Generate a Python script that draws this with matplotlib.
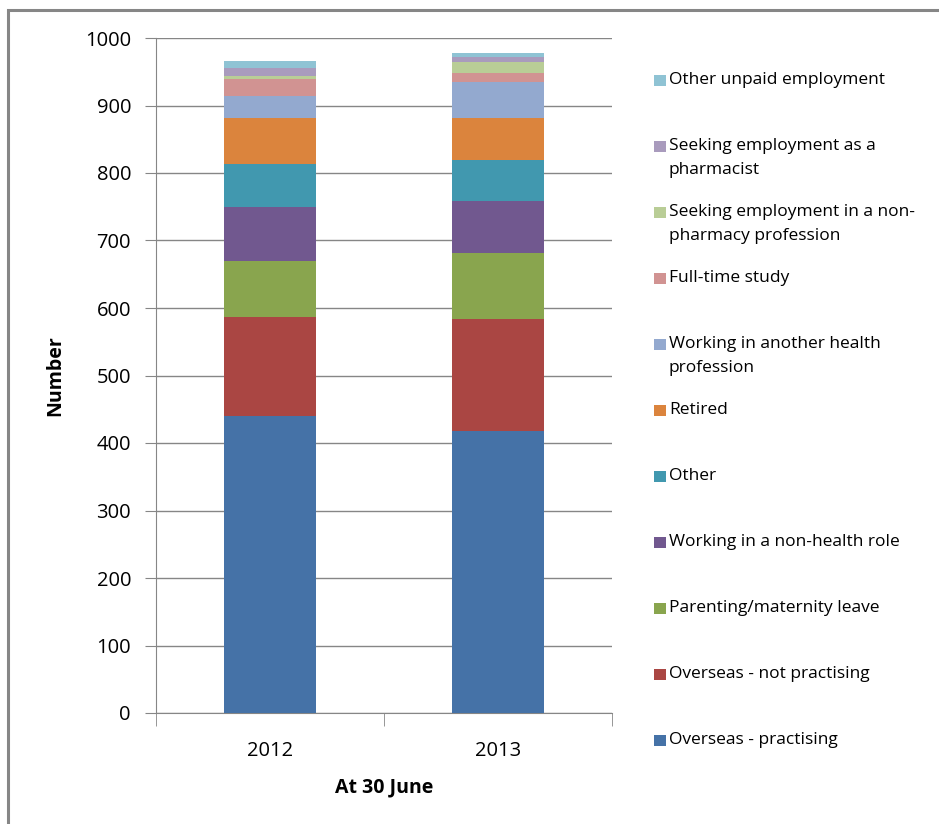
import matplotlib
matplotlib.use("Agg")
import matplotlib.pyplot as plt
from matplotlib.patches import Rectangle
import numpy as np

years = ["2012", "2013"]
series_names = [
    "Overseas - practising",
    "Overseas - not practising",
    "Parenting/maternity leave",
    "Working in a non-health role",
    "Other",
    "Retired",
    "Working in another health\nprofession",
    "Full-time study",
    "Seeking employment in a non-\npharmacy profession",
    "Seeking employment as a\npharmacist",
    "Other unpaid employment",
]
overseas_practising = [440, 418]
overseas_not_practising = [147, 166]
parenting = [83, 98]
non_health_role = [80, 76]
other = [64, 62]
retired = [68, 62]
another_health = [32, 53]
full_time_study = [26, 13]
seeking_non_pharmacy = [4, 16]
seeking_pharmacist = [11, 8]
other_unpaid = [11, 6]

series_values = [overseas_practising, overseas_not_practising, parenting,
                 non_health_role, other, retired, another_health,
                 full_time_study, seeking_non_pharmacy, seeking_pharmacist,
                 other_unpaid]
colors = ["#4572A7", "#AA4643", "#89A54E", "#71588F", "#4198AF", "#DB843D",
          "#93A9CF", "#D19392", "#B9CD96", "#A99BBD", "#8FC3D4"]

plt.rcParams['font.family'] = ['Open Sans', 'DejaVu Sans']

W, H = 939, 824
fig = plt.figure(figsize=(W / 100, H / 100), dpi=100)

# outer chart border
fig.patches.append(Rectangle((8 / W, -0.1), 1.2, (H - 10) / H + 0.1,
                             transform=fig.transFigure, fill=False,
                             edgecolor="#868686", linewidth=2.2))

ax = fig.add_axes([156 / W, (H - 713) / H, 456 / W, (713 - 38) / H])
x = np.arange(len(years))
bottom = np.zeros(len(years))
for name, vals, c in zip(series_names, series_values, colors):
    ax.bar(x, vals, width=0.4, bottom=bottom, color=c, label=name, zorder=3)
    bottom += np.array(vals)

ax.set_xlim(-0.5, 1.5)
ax.set_ylim(0, 1000)
ax.set_yticks(np.arange(0, 1001, 100))
ax.yaxis.grid(True, color="#868686", linewidth=1.0, zorder=0)
ax.set_xticks(x)
ax.set_xticklabels(years)
ax.set_xticks([-0.5, 0.5, 1.5], minor=True)
ax.tick_params(axis='x', which='major', length=0, pad=20, labelsize=14.5)
ax.tick_params(axis='x', which='minor', length=9, color="#868686", direction='out')
ax.tick_params(axis='y', length=8, color="#868686", direction='out', labelsize=14.5, pad=10)
for s in ["top", "right"]:
    ax.spines[s].set_visible(False)
for s in ["left", "bottom"]:
    ax.spines[s].set_color("#868686")
ax.set_ylabel("Number", fontsize=14, fontweight='bold', labelpad=14)
ax.set_xlabel("At 30 June", fontsize=14, fontweight='bold', labelpad=12)

# manual legend (reverse order, top to bottom)
y_first = 78
step = 66
for i, (name, c) in enumerate(reversed(list(zip(series_names, colors)))):
    yp = y_first + i * step
    fig.patches.append(Rectangle((654 / W, 1 - (yp + 8) / H), 12 / W, 11 / H,
                                 transform=fig.transFigure, facecolor=c,
                                 edgecolor='none'))
    fig.text(669 / W, 1 - (yp - 6) / H, name, fontsize=12.5, va='top', ha='left',
             linespacing=1.7)

fig.savefig("out.png", dpi=100)
